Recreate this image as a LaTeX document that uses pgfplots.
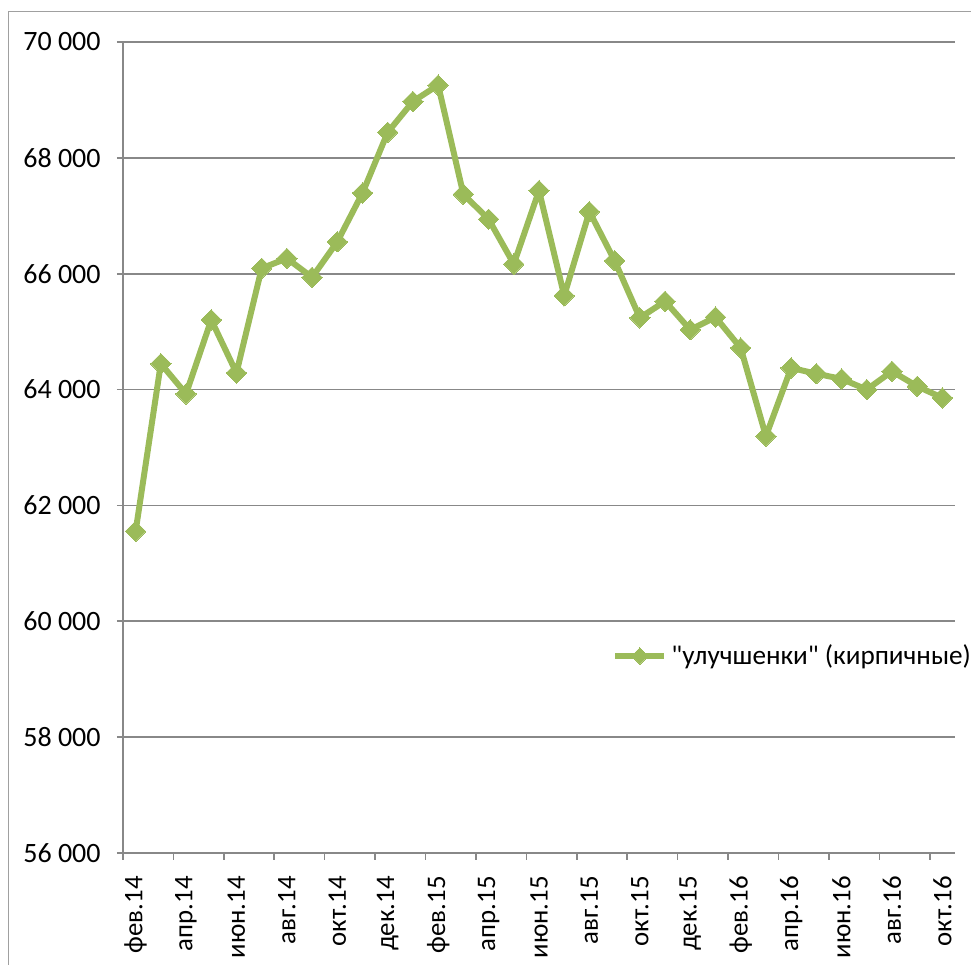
\documentclass[border=0pt]{standalone}
\usepackage{fontspec}
\setmainfont{Carlito}
\newfontfamily\plainfont{Carlito}
\usepackage{pgfplots}
\pgfplotsset{compat=1.18}
\definecolor{lgreen}{HTML}{9BBB59}
\definecolor{gridgray}{HTML}{888888}
\begin{document}
\begin{tikzpicture}
\path[use as bounding box] (0pt,0pt) rectangle (485.5pt,482.5pt);
\draw[gridgray!80, line width=0.5pt] (4.25pt,0pt) -- (4.25pt,476.5pt) -- (485.5pt,476.5pt);
\begin{axis}[
  at={(61.5pt,56pt)}, anchor=south west,
  scale only axis, width=416pt, height=405.5pt,
  xmin=-0.5, xmax=32.5, ymin=56000, ymax=70000,
  axis lines*=left,
  axis line style={gridgray, line width=0.8pt},
  ytick={56000,58000,...,70000},
  scaled y ticks=false,
  ymajorgrids=true,
  grid style={gridgray, line width=0.8pt},
  tick align=outside,
  major tick length=3pt,
  minor tick length=3.5pt,
  xtick={0,2,...,32},
  minor xtick={-0.5,1.5,...,31.5},
  major x tick style={draw=none},
  minor x tick style={gridgray, line width=0.8pt},
  y tick style={gridgray, line width=0.8pt},
  xticklabels={фев.14,апр.14,июн.14,авг.14,окт.14,дек.14,фев.15,апр.15,июн.15,авг.15,окт.15,дек.15,фев.16,апр.16,июн.16,авг.16,окт.16},
  x tick label style={rotate=90, anchor=east, font=\fontsize{13.4}{15}\selectfont, inner sep=0pt, xshift=-8.5pt},
  y tick label style={anchor=east, font=\fontsize{14}{16}\selectfont, inner sep=0pt, xshift=-8pt},
  yticklabel={\pgfmathprintnumber[fixed, 1000 sep={\ }, assume math mode=true]{\tick}},
  clip=false,
  legend style={at={(axis description cs:0.5877,0.2429)}, anchor=west, draw=none, fill=none, inner sep=0pt, font=\plainfont\fontsize{13.6}{15}\selectfont},
  legend image code/.code={\draw[#1, mark repeat=2, mark phase=2, mark options={scale=0.8, rotate=45, solid, line width=0pt}] plot coordinates {(0pt,0pt) (12.25pt,0pt) (24.5pt,0pt)};},
]
\addplot[color=lgreen, line width=3pt, mark=square*, mark size=3.6pt, mark options={rotate=45, solid, line width=0pt}] coordinates {
(0,61553) (1,64447) (2,63926) (3,65203) (4,64287) (5,66093) (6,66265) (7,65938)
(8,66551) (9,67394) (10,68441) (11,68974) (12,69256) (13,67372) (14,66941) (15,66167)
(16,67434) (17,65621) (18,67072) (19,66224) (20,65238) (21,65524) (22,65032) (23,65250)
(24,64718) (25,63196) (26,64373) (27,64274) (28,64184) (29,64000) (30,64315) (31,64057)
(32,63857)};
\addlegendentry{"улучшенки" (кирпичные)}
\end{axis}
\end{tikzpicture}
\end{document}
